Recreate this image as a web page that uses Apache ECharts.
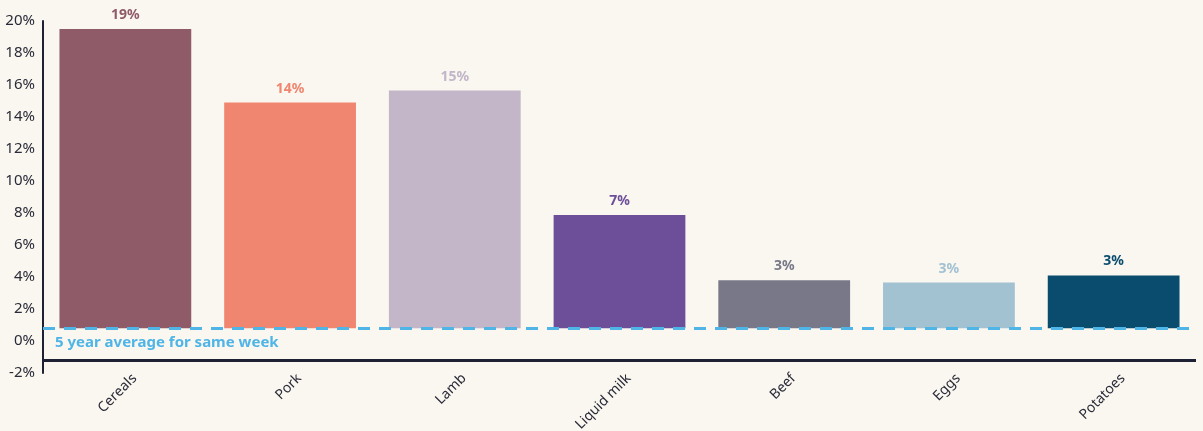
<!DOCTYPE html>
<html><head><meta charset="utf-8">
<script src="https://cdn.jsdelivr.net/npm/echarts@6/dist/echarts.min.js"></script>
<style>html,body{margin:0;padding:0;background:#faf7f0;}#c{width:1203px;height:431px;}</style>
</head><body><div id="c"></div>
<script>
const categories = ["Cereals","Pork","Lamb","Liquid milk","Beef","Eggs","Potatoes"];
const values = [18.7, 14.1, 14.85, 7.07, 3.0, 2.85, 3.3];
const labels = ["19%","14%","15%","7%","3%","3%","3%"];
const colors = ["#8f5b69","#f0866f","#c2b6c8","#6c4e99","#787888","#a2c1d1","#0a4c6e"];
const baseline = 0.8;
const axisLineLevel = -1.2;
const yTicks = {min:-2, max:20, interval:2};
const avgLabel = "5 year average for same week";

const chart = echarts.init(document.getElementById('c'));
chart.setOption({
  backgroundColor:'#faf7f0',
  animation:false,
  textStyle:{fontFamily:'Noto Sans'},
  grid:{left:43, right:7, top:21, bottom:58, containLabel:false, outerBoundsMode:'none'},
  xAxis:{type:'category', data:categories,
    axisLine:{show:false}, axisTick:{show:false},
    axisLabel:{rotate:45, color:'#2a2a38', fontSize:14, margin:-6, interval:0, verticalAlign:'top', padding:[6,0,0,0]}},
  yAxis:{type:'value', min:yTicks.min, max:yTicks.max, interval:yTicks.interval,
    splitLine:{show:false},
    axisLine:{show:true, lineStyle:{color:'#1e2133', width:2}},
    axisTick:{show:false},
    axisLabel:{formatter:'{value}%', color:'#2a2a38', fontSize:15, margin:8}},
  series:[
    {type:'bar', stack:'s', data:categories.map(()=>baseline), barCategoryGap:'20%',
     itemStyle:{color:'transparent'}, silent:true,
     markLine:{symbol:'none', silent:true, data:[
       {yAxis:axisLineLevel, lineStyle:{color:'#1e2133', width:3, type:'solid'}, label:{show:false}}
     ]}},
    {type:'bar', stack:'s', barCategoryGap:'20%',
     data:values.map((v,i)=>({value:v, itemStyle:{color:colors[i]},
       label:{show:true, position:'top', formatter:labels[i], color:colors[i], fontWeight:'bold', fontSize:14, distance:7}})),
     markLine:{symbol:'none', silent:true, z:10, data:[
       {yAxis:baseline, lineStyle:{color:'#4fb4e6', width:3, type:[12,9]},
        label:{show:true, position:'insideStartBottom', formatter:avgLabel, color:'#4fb4e6', fontWeight:'bold', fontSize:15, distance:[12,7]}}
     ]}}
  ]
});
</script></body></html>
